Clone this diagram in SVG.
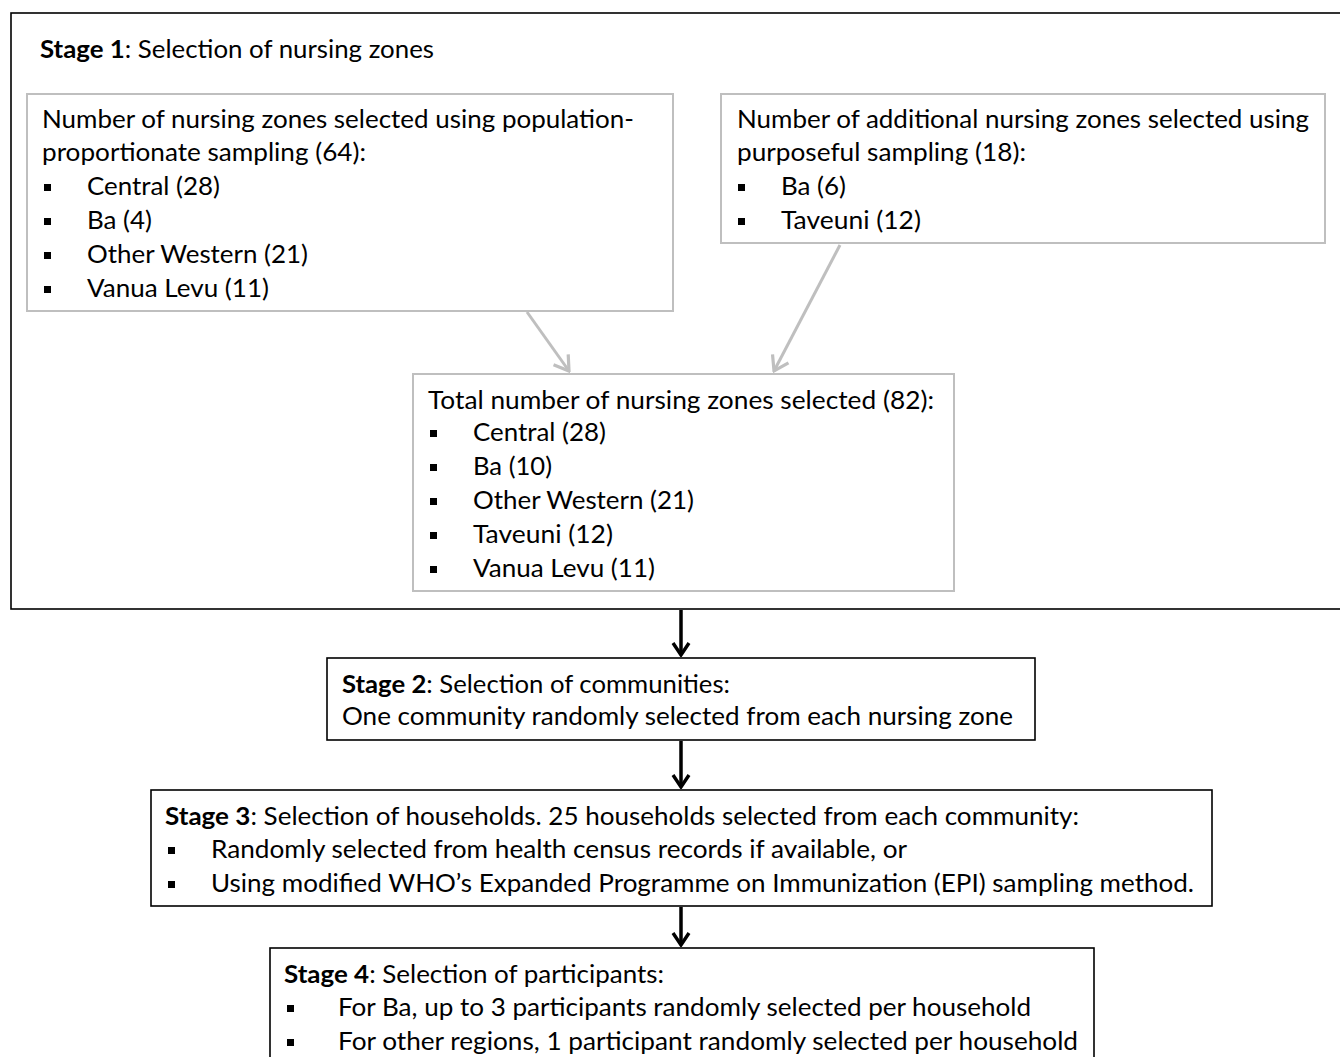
<svg xmlns="http://www.w3.org/2000/svg" width="1340" height="1057" viewBox="0 0 1340 1057">
<style>
text{font-family:Lato,"Open Sans","Liberation Sans",sans-serif;font-size:25px;fill:#000}
.b{font-weight:bold}
.gbox{fill:#fff;stroke:#bfbfbf;stroke-width:2}
.kbox{fill:#fff;stroke:#000;stroke-width:1.6}
.garr{fill:none;stroke:#bfbfbf;stroke-width:3}
.karr{fill:none;stroke:#000;stroke-width:3.5}
.bul{fill:#000}
</style>
<defs>
<rect id="sq" class="bul" x="0" y="-7" width="7" height="7"/>
<marker id="gh" viewBox="0 0 18 22" refX="16" refY="11" markerWidth="18" markerHeight="22" markerUnits="userSpaceOnUse" orient="auto">
<path d="M2,2 L16,11 L2,20" fill="none" stroke="#bfbfbf" stroke-width="3.2"/>
</marker>
<marker id="kh" viewBox="0 0 16 20" refX="14" refY="10" markerWidth="16" markerHeight="20" markerUnits="userSpaceOnUse" orient="auto">
<path d="M2,2 L14,10 L2,18" fill="none" stroke="#000" stroke-width="3.4"/>
</marker>
</defs>

<g id="stage1">
<rect class="kbox" x="11" y="13" width="1340" height="596"/>
<text x="40" y="58" textLength="394" lengthAdjust="spacingAndGlyphs"><tspan class="b">Stage 1</tspan>: Selection of nursing zones</text>
</g>

<g id="pps">
<rect class="gbox" x="27" y="94" width="646" height="217"/>
<text x="42" y="128" textLength="592" lengthAdjust="spacingAndGlyphs">Number of nursing zones selected using population-</text>
<text x="42" y="161" textLength="324" lengthAdjust="spacingAndGlyphs">proportionate sampling (64):</text>
<use href="#sq" x="44" y="191"/><text x="87" y="195" textLength="133" lengthAdjust="spacingAndGlyphs">Central (28)</text>
<use href="#sq" x="44" y="225"/><text x="87" y="229" textLength="65" lengthAdjust="spacingAndGlyphs">Ba (4)</text>
<use href="#sq" x="44" y="259"/><text x="87" y="263" textLength="221" lengthAdjust="spacingAndGlyphs">Other Western (21)</text>
<use href="#sq" x="44" y="293"/><text x="87" y="297" textLength="182" lengthAdjust="spacingAndGlyphs">Vanua Levu (11)</text>
</g>

<g id="purposeful">
<rect class="gbox" x="721" y="94" width="604" height="149"/>
<text x="737" y="128" textLength="572" lengthAdjust="spacingAndGlyphs">Number of additional nursing zones selected using</text>
<text x="737" y="161" textLength="289" lengthAdjust="spacingAndGlyphs">purposeful sampling (18):</text>
<use href="#sq" x="738" y="191"/><text x="781" y="195" textLength="65" lengthAdjust="spacingAndGlyphs">Ba (6)</text>
<use href="#sq" x="738" y="225"/><text x="781" y="229" textLength="140" lengthAdjust="spacingAndGlyphs">Taveuni (12)</text>
</g>

<g id="total">
<rect class="gbox" x="413" y="374" width="541" height="217"/>
<text x="428" y="409" textLength="506" lengthAdjust="spacingAndGlyphs">Total number of nursing zones selected (82):</text>
<use href="#sq" x="430" y="437"/><text x="473" y="441" textLength="133" lengthAdjust="spacingAndGlyphs">Central (28)</text>
<use href="#sq" x="430" y="471"/><text x="473" y="475" textLength="79" lengthAdjust="spacingAndGlyphs">Ba (10)</text>
<use href="#sq" x="430" y="505"/><text x="473" y="509" textLength="221" lengthAdjust="spacingAndGlyphs">Other Western (21)</text>
<use href="#sq" x="430" y="539"/><text x="473" y="543" textLength="140" lengthAdjust="spacingAndGlyphs">Taveuni (12)</text>
<use href="#sq" x="430" y="573"/><text x="473" y="577" textLength="182" lengthAdjust="spacingAndGlyphs">Vanua Levu (11)</text>
</g>

<g id="stage2">
<rect class="kbox" x="327" y="658" width="708" height="82"/>
<text x="342" y="693" textLength="388" lengthAdjust="spacingAndGlyphs"><tspan class="b">Stage 2</tspan>: Selection of communities:</text>
<text x="342" y="725" textLength="671" lengthAdjust="spacingAndGlyphs">One community randomly selected from each nursing zone</text>
</g>

<g id="stage3">
<rect class="kbox" x="151" y="790" width="1061" height="116"/>
<text x="165" y="825" textLength="914" lengthAdjust="spacingAndGlyphs"><tspan class="b">Stage 3</tspan>: Selection of households. 25 households selected from each community:</text>
<use href="#sq" x="168" y="854"/><text x="211" y="858" textLength="696" lengthAdjust="spacingAndGlyphs">Randomly selected from health census records if available, or</text>
<use href="#sq" x="168" y="888"/><text x="211" y="892" textLength="983" lengthAdjust="spacingAndGlyphs">Using modified WHO’s Expanded Programme on Immunization (EPI) sampling method.</text>
</g>

<g id="stage4">
<rect class="kbox" x="270" y="948" width="824" height="130"/>
<text x="284" y="983" textLength="380" lengthAdjust="spacingAndGlyphs"><tspan class="b">Stage 4</tspan>: Selection of participants:</text>
<use href="#sq" x="287" y="1012"/><text x="338" y="1016" textLength="693" lengthAdjust="spacingAndGlyphs">For Ba, up to 3 participants randomly selected per household</text>
<use href="#sq" x="287" y="1046"/><text x="338" y="1050" textLength="740" lengthAdjust="spacingAndGlyphs">For other regions, 1 participant randomly selected per household</text>
</g>

<g id="connectors">
<line class="garr" x1="527" y1="312" x2="569" y2="371" marker-end="url(#gh)"/>
<line class="garr" x1="840" y1="245" x2="774" y2="371" marker-end="url(#gh)"/>
<line class="karr" x1="681" y1="610" x2="681" y2="655" marker-end="url(#kh)"/>
<line class="karr" x1="681" y1="741" x2="681" y2="787" marker-end="url(#kh)"/>
<line class="karr" x1="681" y1="907" x2="681" y2="945" marker-end="url(#kh)"/>
</g>
</svg>
